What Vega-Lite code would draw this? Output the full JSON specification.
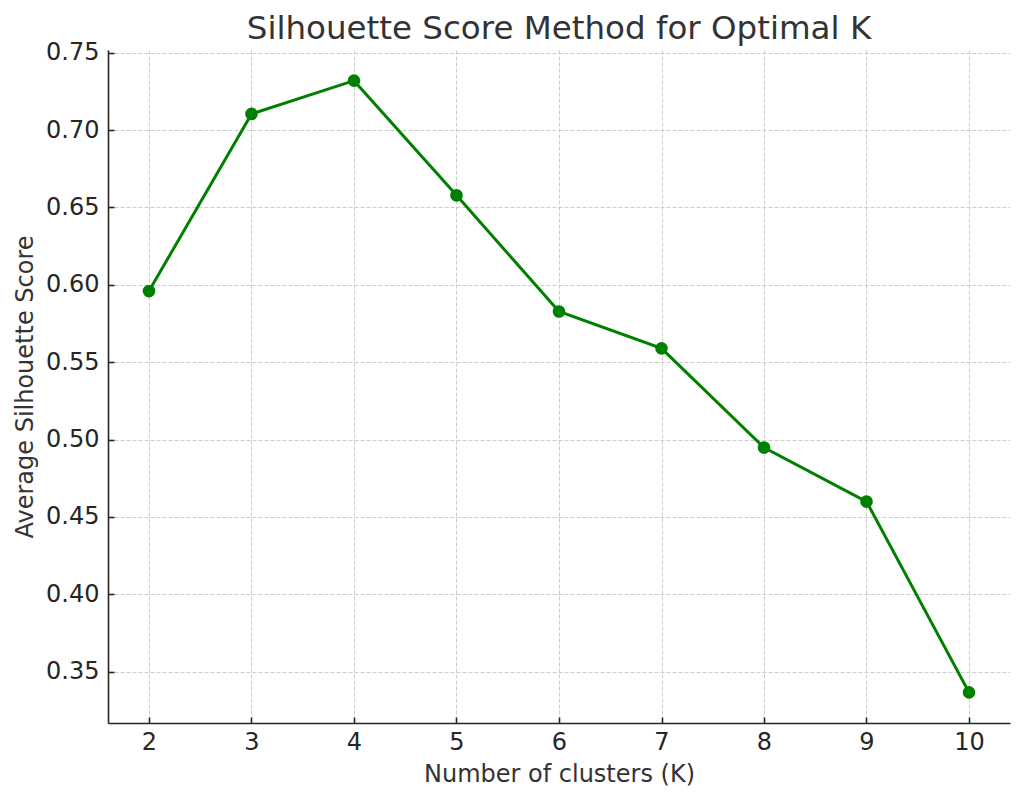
{
  "$schema": "https://vega.github.io/schema/vega-lite/v6.json",
  "autosize": {"type": "none"},
  "width": 902,
  "height": 673,
  "padding": {"left": 108, "top": 50, "right": 14, "bottom": 78},
  "background": "white",
  "title": {
    "text": "Silhouette Score Method for Optimal K",
    "font": "DejaVu Sans",
    "fontSize": 32.5,
    "fontWeight": "normal",
    "color": "#333333",
    "anchor": "middle",
    "baseline": "bottom",
    "offset": -38
  },
  "data": {
    "values": [
      {"k": 2, "score": 0.5959},
      {"k": 3, "score": 0.7104},
      {"k": 4, "score": 0.7319},
      {"k": 5, "score": 0.6578},
      {"k": 6, "score": 0.5827},
      {"k": 7, "score": 0.5589},
      {"k": 8, "score": 0.4948},
      {"k": 9, "score": 0.4599},
      {"k": 10, "score": 0.3366}
    ]
  },
  "config": {
    "view": {"stroke": null},
    "axis": {
      "labelFont": "DejaVu Sans",
      "titleFont": "DejaVu Sans",
      "labelFontSize": 24,
      "titleFontSize": 24,
      "titleFontWeight": "normal",
      "labelColor": "#262626",
      "titleColor": "#333333",
      "domainColor": "#262626",
      "domainWidth": 1.6,
      "tickColor": "#262626",
      "tickWidth": 1.6,
      "tickSize": -6,
      "gridColor": "#cccccc",
      "gridDash": [4, 2],
      "gridWidth": 1
    }
  },
  "layer": [
    {
      "mark": {"type": "line", "color": "#008000", "strokeWidth": 3},
      "encoding": {
        "x": {"field": "k", "type": "quantitative"},
        "y": {"field": "score", "type": "quantitative"}
      }
    },
    {
      "mark": {"type": "point", "filled": true, "color": "#008000", "opacity": 1, "size": 160},
      "encoding": {
        "x": {
          "field": "k",
          "type": "quantitative",
          "scale": {"domain": [1.6, 10.4], "nice": false, "zero": false},
          "axis": {
            "title": "Number of clusters (K)",
            "values": [2, 3, 4, 5, 6, 7, 8, 9, 10],
            "format": "d",
            "labelPadding": 13,
            "titlePadding": 8,
            "labelFlush": false
          }
        },
        "y": {
          "field": "score",
          "type": "quantitative",
          "scale": {"domain": [0.3168, 0.7517], "nice": false, "zero": false},
          "axis": {
            "title": "Average Silhouette Score",
            "values": [0.35, 0.4, 0.45, 0.5, 0.55, 0.6, 0.65, 0.7, 0.75],
            "format": ".2f",
            "labelPadding": 15,
            "titlePadding": 8,
            "labelFlush": false
          }
        }
      }
    }
  ]
}
